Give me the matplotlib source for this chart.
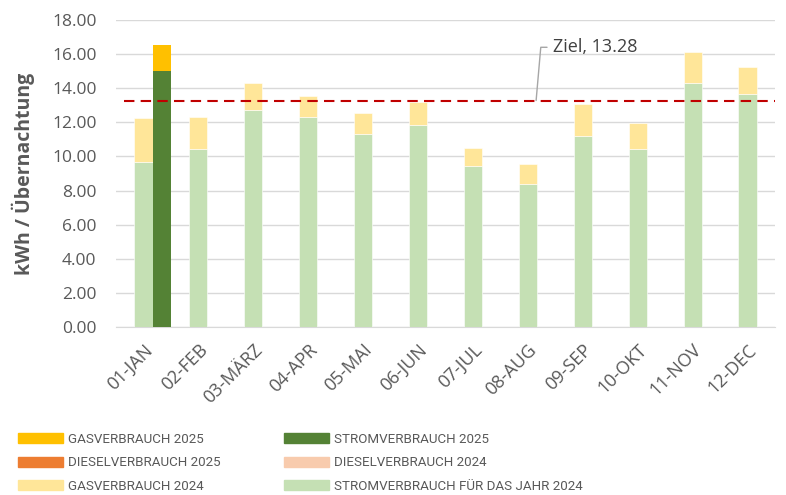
import numpy as np
import matplotlib.pyplot as plt
from matplotlib.patches import Patch

# Daten
monate = ['01-JAN', '02-FEB', '03-MÄRZ', '04-APR', '05-MAI', '06-JUN',
          '07-JUL', '08-AUG', '09-SEP', '10-OKT', '11-NOV', '12-DEC']
strom_2024 = [9.67, 10.43, 12.74, 12.33, 11.33, 11.86, 9.44, 8.40, 11.20, 10.42, 14.32, 13.66]
gas_2024_gesamt = [12.23, 12.31, 14.30, 13.52, 12.53, 13.19, 10.51, 9.55, 13.07, 11.98, 16.10, 15.24]
gas_2024 = [g - s for g, s in zip(gas_2024_gesamt, strom_2024)]
diesel_2024 = [0] * 12
strom_2025 = [15.0] + [0] * 11
gas_2025 = [1.53] + [0] * 11
diesel_2025 = [0] * 12
ziel = 13.28

c_gas25 = '#FFC000'
c_diesel25 = '#ED7D31'
c_gas24 = '#FFE699'
c_strom25 = '#548235'
c_diesel24 = '#F8CBAD'
c_strom24 = '#C5E0B4'
grau = '#595959'

plt.rcParams['font.family'] = ['Open Sans', 'DejaVu Sans']

fig = plt.figure(figsize=(7.86, 4.95), dpi=100, facecolor='white')
ax = fig.add_axes([116 / 786, 1 - 327 / 495, 659 / 786, 307 / 495])

x = np.arange(len(monate))
w = 0.33

# 2024 (Mitte der Kategorie)
ax.bar(x, strom_2024, w, color=c_strom24, edgecolor='white', linewidth=0.4, zorder=3)
ax.bar(x, gas_2024, w, bottom=strom_2024, color=c_gas24, edgecolor='white', linewidth=0.4, zorder=3)
b2 = [s + g for s, g in zip(strom_2024, gas_2024)]
ax.bar(x, diesel_2024, w, bottom=b2, color=c_diesel24, zorder=3)

# 2025 (rechts daneben)
x25 = x + w
ax.bar(x25, strom_2025, w, color=c_strom25, zorder=3)
ax.bar(x25, gas_2025, w, bottom=strom_2025, color=c_gas25, zorder=3)
b25 = [s + g for s, g in zip(strom_2025, gas_2025)]
ax.bar(x25, diesel_2025, w, bottom=b25, color=c_diesel25, zorder=3)

# Ziellinie
ax.plot([-0.35, 11.65], [ziel, ziel], color='#C00000', linestyle=(0, (5, 3)),
        linewidth=1.5, zorder=4)
ax.annotate(f'Ziel, {ziel}', xy=(7.15, ziel), xytext=(7.45, 16.4),
            fontsize=13, color='#404040',
            va='center', ha='left',
            arrowprops=dict(arrowstyle='-', color='#A6A6A6', lw=1,
                            connectionstyle='angle,angleA=0,angleB=85,rad=0',
                            shrinkA=2, shrinkB=0))

ax.set_xlim(-0.5, 11.5)
ax.set_ylim(0, 18)
ax.set_yticks(np.arange(0, 18.1, 2))
ax.set_yticklabels([f'{v:.2f}' for v in np.arange(0, 18.1, 2)],
                   fontsize=12.5, color=grau)
ax.set_xticks(x)
ax.set_xticklabels(monate, rotation=45, ha='right', va='top', rotation_mode='anchor',
                   fontsize=13, color=grau)
ax.tick_params(axis='y', length=0, pad=14)
ax.tick_params(axis='x', length=0, pad=10)
ax.grid(axis='y', color='#D9D9D9', linewidth=1, zorder=0)
for s in ['top', 'right', 'left']:
    ax.spines[s].set_visible(False)
ax.spines['bottom'].set_color('#D9D9D9')
ax.set_ylabel('kWh / Übernachtung', fontsize=14, fontweight='bold', color=grau,
              labelpad=12)

# Legende in zwei Spalten
h1 = [Patch(color=c_gas25, label='GASVERBRAUCH 2025'),
      Patch(color=c_diesel25, label='DIESELVERBRAUCH 2025'),
      Patch(color=c_gas24, label='GASVERBRAUCH 2024')]
h2 = [Patch(color=c_strom25, label='STROMVERBRAUCH 2025'),
      Patch(color=c_diesel24, label='DIESELVERBRAUCH 2024'),
      Patch(color=c_strom24, label='STROMVERBRAUCH FÜR DAS JAHR 2024')]
kw = dict(loc='upper left', frameon=False, handlelength=3.4,
          handleheight=0.75, handletextpad=0.35, labelspacing=0.78,
          borderaxespad=0, borderpad=0,
          prop={'family': 'Roboto', 'size': 9.6})
l1 = fig.legend(handles=h1, bbox_to_anchor=(18 / 786, 1 - 433 / 495), **kw)
l2 = fig.legend(handles=h2, bbox_to_anchor=(284 / 786, 1 - 433 / 495), **kw)
for lg in (l1, l2):
    for t in lg.get_texts():
        t.set_color(grau)

plt.savefig('out.png', dpi=100, facecolor='white')
